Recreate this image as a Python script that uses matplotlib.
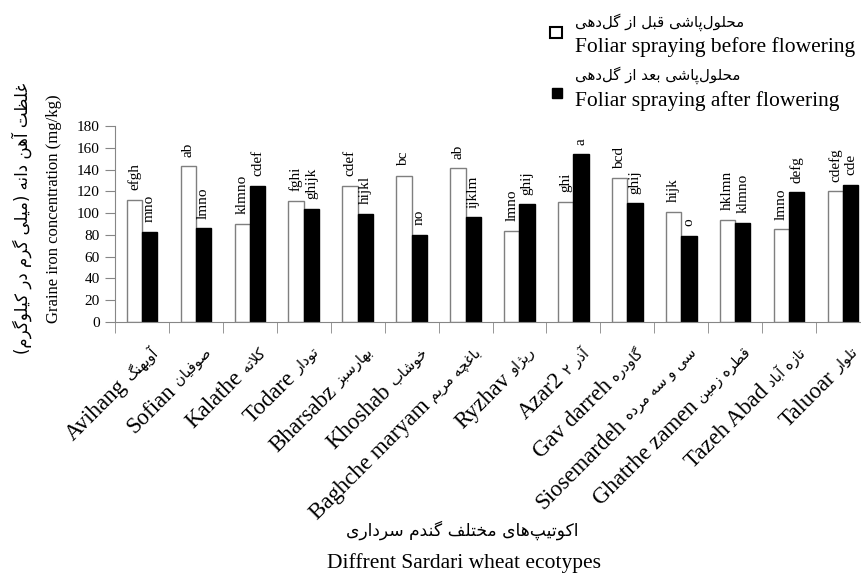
import matplotlib
matplotlib.use('Agg')
import matplotlib.pyplot as plt
from matplotlib.patches import Rectangle
import numpy as np

# ---- data ----
ecotypes_en = ['Avihang', 'Sofian', 'Kalathe', 'Todare', 'Bharsabz', 'Khoshab',
               'Baghche maryam', 'Ryzhav', 'Azar2', 'Gav darreh', 'Siosemardeh',
               'Ghatrhe zamen', 'Tazeh Abad', 'Taluoar']
ecotypes_fa = ['آویهنگ', 'صوفیان', 'کلاته', 'تودار', 'بهارسبز', 'خوشاب',
               'باغچه مریم', 'ریژاو', 'آذر ۲', 'گاودره', 'سی و سه مرده',
               'قطره زمین', 'تازه آباد', 'تلوار']
before = [112, 143, 90, 111, 125, 134, 141, 84, 110, 132, 101, 94, 85, 120]
after = [83, 86, 125, 104, 99, 80, 96, 108, 154, 109, 79, 91, 119, 126]
letters_before = ['efgh', 'ab', 'klmno', 'fghi', 'cdef', 'bc', 'ab', 'lmno',
                  'ghi', 'bcd', 'hijk', 'hklmn', 'lmno', 'cdefg']
letters_after = ['mno', 'lmno', 'cdef', 'ghijk', 'hijkl', 'no', 'ijklm', 'ghij',
                 'a', 'ghij', 'o', 'klmno', 'defg', 'cde']
yticks = np.arange(0, 181, 20)

legend_fa = ['محلول‌پاشی قبل از گل‌دهی', 'محلول‌پاشی بعد از گل‌دهی']
legend_en = ['Foliar spraying before flowering', 'Foliar spraying after flowering']
ylabel_fa = 'غلظت آهن دانه (میلی گرم در کیلوگرم)'
ylabel_en = 'Graine iron concentration (mg/kg)'
xlabel_fa = 'اکوتیپ‌های مختلف گندم سرداری'
xlabel_en = 'Diffrent Sardari wheat ecotypes'

# ---- minimal persian shaping (matplotlib does no arabic joining / bidi) ----
FORMS = {
    'آ': (0xFE81, 0xFE82), 'ا': (0xFE8D, 0xFE8E),
    'ب': (0xFE8F, 0xFE90, 0xFE91, 0xFE92), 'پ': (0xFB56, 0xFB57, 0xFB58, 0xFB59),
    'ت': (0xFE95, 0xFE96, 0xFE97, 0xFE98), 'ث': (0xFE99, 0xFE9A, 0xFE9B, 0xFE9C),
    'ج': (0xFE9D, 0xFE9E, 0xFE9F, 0xFEA0), 'چ': (0xFB7A, 0xFB7B, 0xFB7C, 0xFB7D),
    'ح': (0xFEA1, 0xFEA2, 0xFEA3, 0xFEA4), 'خ': (0xFEA5, 0xFEA6, 0xFEA7, 0xFEA8),
    'د': (0xFEA9, 0xFEAA), 'ذ': (0xFEAB, 0xFEAC), 'ر': (0xFEAD, 0xFEAE),
    'ز': (0xFEAF, 0xFEB0), 'ژ': (0xFB8A, 0xFB8B),
    'س': (0xFEB1, 0xFEB2, 0xFEB3, 0xFEB4), 'ش': (0xFEB5, 0xFEB6, 0xFEB7, 0xFEB8),
    'ص': (0xFEB9, 0xFEBA, 0xFEBB, 0xFEBC), 'ض': (0xFEBD, 0xFEBE, 0xFEBF, 0xFEC0),
    'ط': (0xFEC1, 0xFEC2, 0xFEC3, 0xFEC4), 'ظ': (0xFEC5, 0xFEC6, 0xFEC7, 0xFEC8),
    'ع': (0xFEC9, 0xFECA, 0xFECB, 0xFECC), 'غ': (0xFECD, 0xFECE, 0xFECF, 0xFED0),
    'ف': (0xFED1, 0xFED2, 0xFED3, 0xFED4), 'ق': (0xFED5, 0xFED6, 0xFED7, 0xFED8),
    'ک': (0xFB8E, 0xFB8F, 0xFB90, 0xFB91), 'گ': (0xFB92, 0xFB93, 0xFB94, 0xFB95),
    'ل': (0xFEDD, 0xFEDE, 0xFEDF, 0xFEE0), 'م': (0xFEE1, 0xFEE2, 0xFEE3, 0xFEE4),
    'ن': (0xFEE5, 0xFEE6, 0xFEE7, 0xFEE8), 'ه': (0xFEE9, 0xFEEA, 0xFEEB, 0xFEEC),
    'و': (0xFEED, 0xFEEE), 'ی': (0xFEEF, 0xFEF0, 0xFEF3, 0xFEF4),
}
LAM_ALEF = {'ا': (0xFEFB, 0xFEFC), 'آ': (0xFEF5, 0xFEF6)}


def fa(s):
    out = []
    i = 0
    while i < len(s):
        c = s[i]
        prev = s[i - 1] if i > 0 else ''
        prev_joins = prev in FORMS and len(FORMS[prev]) == 4
        nxt = s[i + 1] if i + 1 < len(s) else ''
        if c == 'ل' and nxt in LAM_ALEF:
            out.append(chr(LAM_ALEF[nxt][1 if prev_joins else 0]))
            i += 2
            continue
        if c not in FORMS:
            if c != '\u200c':
                out.append(c)
            i += 1
            continue
        f = FORMS[c]
        next_ok = len(f) == 4 and nxt in FORMS
        if prev_joins and next_ok:
            out.append(chr(f[3]))
        elif prev_joins:
            out.append(chr(f[1]))
        elif next_ok:
            out.append(chr(f[2]))
        else:
            out.append(chr(f[0]))
        i += 1
    vis = ''.join(reversed(out))
    return vis.translate(str.maketrans('()', ')('))


SERIF = 'Liberation Serif'
FAFONT = 'DejaVu Sans'
GREY = '#868686'

W, H = 861, 573
fig = plt.figure(figsize=(W / 100, H / 100), dpi=100)
ax = fig.add_axes([115 / W, (H - 322) / H, (870 - 115) / W, 196 / H])

x = np.arange(len(ecotypes_en))
bw = 0.283
ax.bar(x - bw / 2, before, bw, color='white', edgecolor='#7f7f7f', linewidth=1)
ax.bar(x + bw / 2, after, bw, color='black', edgecolor='black', linewidth=1)

for i in range(len(x)):
    ax.annotate(letters_before[i], (x[i] - bw / 2, before[i]), xytext=(0, 7),
                textcoords='offset points', rotation=90, ha='center', va='bottom',
                fontsize=11, family=SERIF)
    ax.annotate(letters_after[i], (x[i] + bw / 2, after[i]), xytext=(0, 7),
                textcoords='offset points', rotation=90, ha='center', va='bottom',
                fontsize=11, family=SERIF)

ax.set_xlim(-0.5, len(x) - 0.5)
ax.set_ylim(0, 180)
ax.set_yticks(yticks)
ax.set_yticklabels([str(v) for v in yticks], family=SERIF, fontsize=11)
ax.set_xticks(x)
ax.set_xticklabels([])
ax.set_xticks(np.arange(-0.5, len(x), 1), minor=True)
ax.tick_params(axis='x', which='major', length=0)
ax.tick_params(axis='x', which='minor', length=8, color=GREY, direction='out')
ax.tick_params(axis='y', length=7, color=GREY, direction='out', pad=4)
for side in ['top', 'right']:
    ax.spines[side].set_visible(False)
for side in ['left', 'bottom']:
    ax.spines[side].set_color(GREY)
ax.patch.set_alpha(0)

# rotated category labels: english (large) + persian (small) on one line
renderer = fig.canvas.get_renderer()
c45 = np.cos(np.radians(45))
for i in range(len(x)):
    pf = fa(ecotypes_fa[i])
    tmp = fig.text(0, 0, pf, fontsize=10.5, family=FAFONT)
    wfa = tmp.get_window_extent(renderer).width
    tmp.remove()
    ox, oy = 12, -27
    ax.annotate(pf, (x[i], 0), xycoords='data',
                xytext=(ox * 0.72, oy * 0.72), textcoords='offset points',
                rotation=45, rotation_mode='anchor', ha='right', va='center_baseline',
                fontsize=10.5, family=FAFONT)
    d = wfa + 6
    ax.annotate(ecotypes_en[i], (x[i], 0), xycoords='data',
                xytext=((ox - d * c45) * 0.72, (oy - d * c45) * 0.72),
                textcoords='offset points', rotation=45, rotation_mode='anchor',
                ha='right', va='center_baseline', fontsize=16.5, family=SERIF)

# axis titles
fig.text(22 / W, 1 - 218 / H, fa(ylabel_fa), rotation=90, ha='center', va='center',
         fontsize=12, family=FAFONT)
fig.text(54 / W, 1 - 209 / H, ylabel_en, rotation=90, ha='center', va='center',
         fontsize=12, family=SERIF)
fig.text(462 / W, 1 - 530 / H, fa(xlabel_fa), ha='center', va='center',
         fontsize=12.3, family=FAFONT)
fig.text(464 / W, 1 - 563 / H, xlabel_en, ha='center', va='center',
         fontsize=15.5, family=SERIF)

# legend drawn by hand (two-language entries)
fig.patches.append(Rectangle((550 / W, 1 - 38 / H), 12 / W, 11 / H, transform=fig.transFigure,
                             facecolor='white', edgecolor='black', linewidth=1.5))
fig.patches.append(Rectangle((552 / W, 1 - 98 / H), 10 / W, 10 / H, transform=fig.transFigure,
                             facecolor='black', edgecolor='black', linewidth=1))
fig.text(575 / W, 1 - 22 / H, fa(legend_fa[0]), ha='left', va='center', fontsize=10.8,
         family=FAFONT)
fig.text(575 / W, 1 - 47 / H, legend_en[0], ha='left', va='center', fontsize=15.5,
         family=SERIF)
fig.text(575 / W, 1 - 75 / H, fa(legend_fa[1]), ha='left', va='center', fontsize=10.8,
         family=FAFONT)
fig.text(575 / W, 1 - 101 / H, legend_en[1], ha='left', va='center', fontsize=15.5,
         family=SERIF)

fig.savefig('out.png', dpi=100)
